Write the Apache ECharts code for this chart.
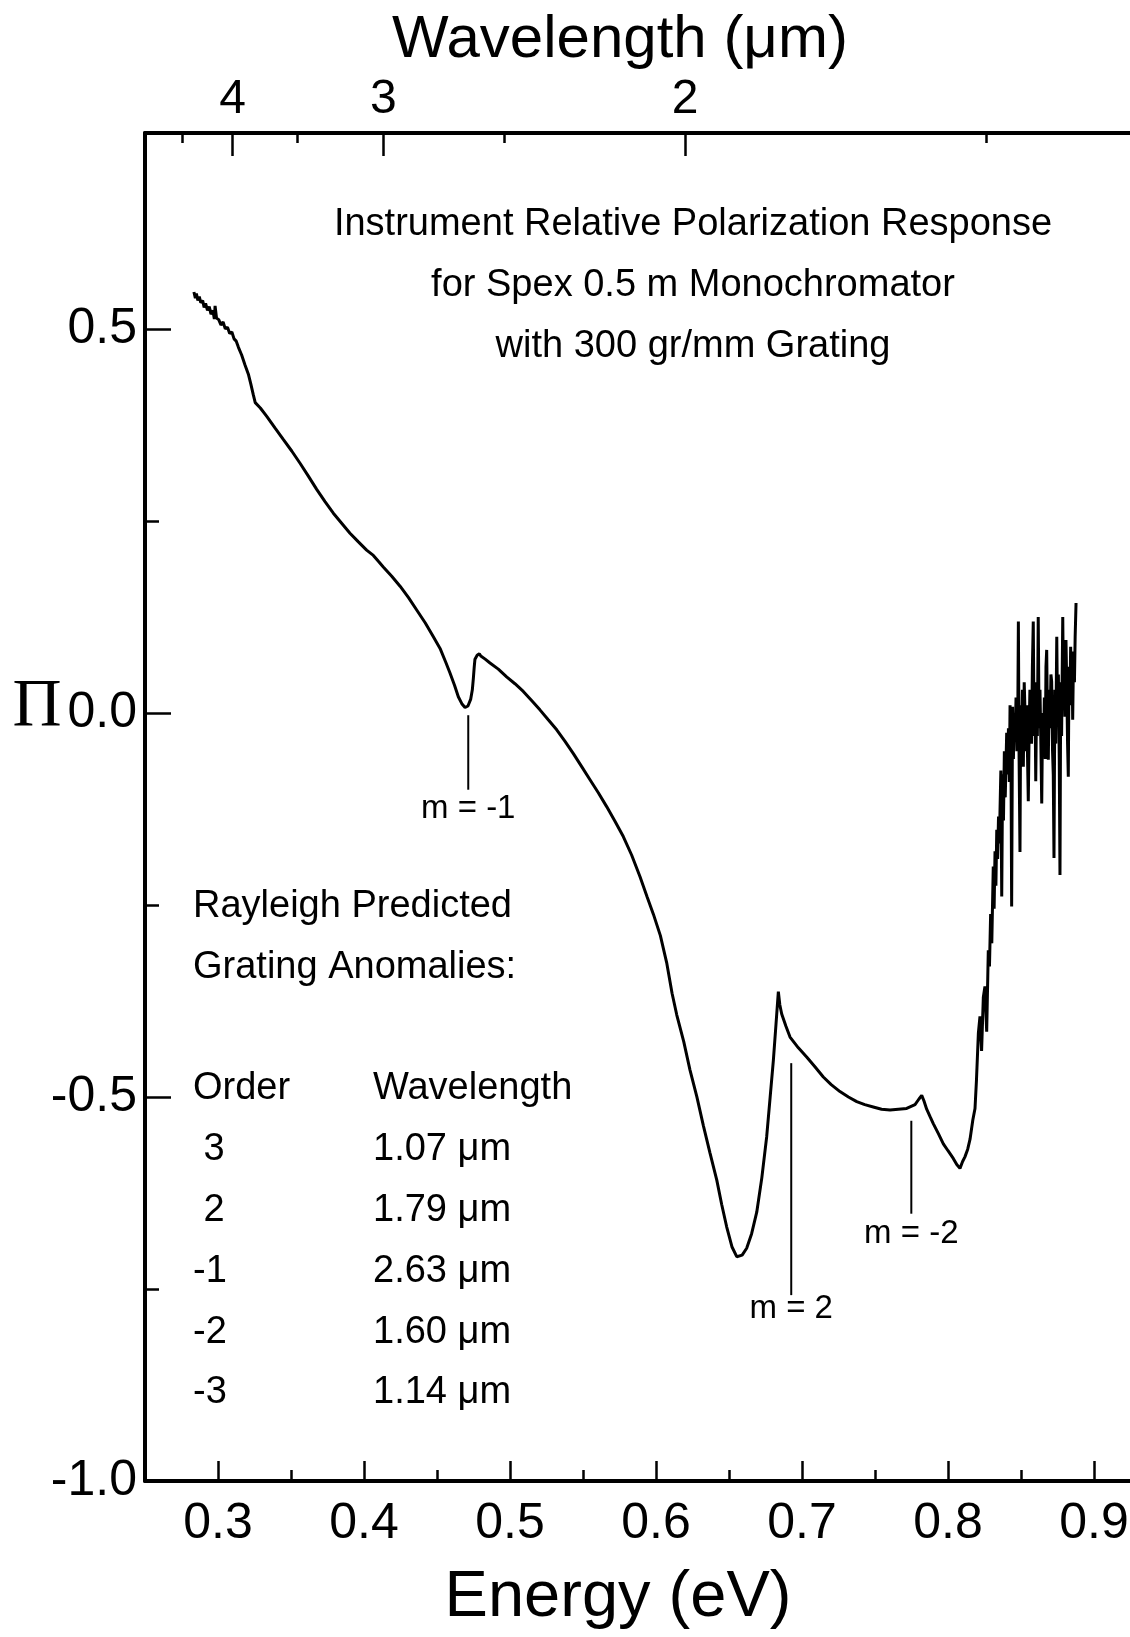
<!DOCTYPE html>
<html>
<head>
<meta charset="utf-8">
<script src="https://cdn.jsdelivr.net/npm/echarts@6/dist/echarts.min.js"></script>
<style>
  html, body { margin: 0; padding: 0; background: #fff; }
  #main { width: 1130px; height: 1637px; }
</style>
</head>
<body>
<div id="main"></div>
<script>
// hc / e in eV*um, used to place the wavelength axis
const LAMBDA_EV = 1.2398;

// axis ticks
const energyMajor = [0.3, 0.4, 0.5, 0.6, 0.7, 0.8, 0.9];
const energyMinor = [0.35, 0.45, 0.55, 0.65, 0.75, 0.85];
const piMajor = [-1.0, -0.5, 0.0, 0.5];
const piMinor = [-0.75, -0.25, 0.25];
const lambdaMajor = [4, 3, 2];
const lambdaMinor = [4.5, 3.5, 2.5, 1.5];

// measured polarization response, Pi vs energy (eV)
const curveEnergy = [
  0.2835, 0.2845, 0.2852, 0.2862, 0.2872, 0.2882, 0.2895, 0.2905, 0.2915, 0.2928,
  0.2940, 0.2952, 0.2965, 0.2975, 0.2980, 0.2990, 0.3005, 0.3020, 0.3035, 0.3050,
  0.3065, 0.3080, 0.3095, 0.3110, 0.3125, 0.3140, 0.3162, 0.3185, 0.3208, 0.3225,
  0.3242, 0.3255, 0.3265, 0.3290, 0.3334, 0.3390, 0.3447, 0.3505, 0.3562, 0.3620,
  0.3676, 0.3733, 0.3790, 0.3847, 0.3904, 0.3960, 0.4018, 0.4064, 0.4100, 0.4132,
  0.4190, 0.4247, 0.4305, 0.4361, 0.4420, 0.4475, 0.4521, 0.4560, 0.4589, 0.4620,
  0.4646, 0.4670, 0.4692, 0.4712, 0.4731, 0.4742, 0.4749, 0.4755, 0.4760, 0.4775,
  0.4790, 0.4800, 0.4830, 0.4863, 0.4920, 0.4977, 0.5034, 0.5091, 0.5148, 0.5205,
  0.5262, 0.5320, 0.5377, 0.5434, 0.5491, 0.5548, 0.5605, 0.5662, 0.5719, 0.5776,
  0.5833, 0.5890, 0.5940, 0.5982, 0.6030, 0.6073, 0.6110, 0.6142, 0.6190, 0.6233,
  0.6280, 0.6324, 0.6370, 0.6416, 0.6450, 0.6484, 0.6520, 0.6553, 0.6590, 0.6621,
  0.6655, 0.6690, 0.6725, 0.6758, 0.6782, 0.6804, 0.6822, 0.6838, 0.6848, 0.6861,
  0.6890, 0.6918, 0.6975, 0.7032, 0.7090, 0.7146, 0.7200, 0.7260, 0.7318, 0.7375,
  0.7430, 0.7488, 0.7545, 0.7603, 0.7660, 0.7717, 0.7774, 0.7800, 0.7820, 0.7835,
  0.7854, 0.7878, 0.7900, 0.7935, 0.7968, 0.8000, 0.8036, 0.8060, 0.8082, 0.8100,
  0.8116, 0.8135, 0.8151, 0.8170, 0.8185, 0.8195,
  // noisy tail
  0.8208, 0.8219, 0.8230, 0.8242, 0.8253, 0.8265, 0.8276, 0.8284, 0.8292, 0.8300,
  0.8310, 0.8316, 0.8322, 0.8328, 0.8334, 0.8340, 0.8346, 0.8352, 0.8356, 0.8362,
  0.8368, 0.8374, 0.8380, 0.8386, 0.8392, 0.8402, 0.8408, 0.8414, 0.8420, 0.8425,
  0.8431, 0.8436, 0.8442, 0.8448, 0.8454, 0.8460, 0.8466, 0.8472, 0.8478, 0.8482,
  0.8487, 0.8493, 0.8498, 0.8504, 0.8510, 0.8516, 0.8522, 0.8527, 0.8533, 0.8539,
  0.8545, 0.8550, 0.8556, 0.8561, 0.8566, 0.8572, 0.8578, 0.8584, 0.8590, 0.8595,
  0.8601, 0.8607, 0.8612, 0.8618, 0.8624, 0.8630, 0.8636, 0.8642, 0.8648, 0.8654,
  0.8660, 0.8666, 0.8671, 0.8676, 0.8682, 0.8687, 0.8693, 0.8699, 0.8705, 0.8710,
  0.8716, 0.8721, 0.8726, 0.8732, 0.8738, 0.8745, 0.8750, 0.8756, 0.8762, 0.8767,
  0.8772, 0.8778, 0.8786, 0.8791, 0.8796, 0.8801, 0.8808, 0.8814, 0.8819, 0.8824,
  0.8829, 0.8835, 0.8840, 0.8846, 0.8850, 0.8854, 0.8860, 0.8866, 0.8871, 0.8877
];
const curvePi = [
  0.548, 0.540, 0.546, 0.537, 0.542, 0.534, 0.537, 0.528, 0.533, 0.524,
  0.529, 0.519, 0.524, 0.513, 0.530, 0.514, 0.512, 0.505, 0.509, 0.500,
  0.502, 0.494, 0.496, 0.487, 0.484, 0.476, 0.466, 0.453, 0.441, 0.428,
  0.414, 0.404, 0.403, 0.397, 0.386, 0.371, 0.356, 0.341, 0.325, 0.308,
  0.291, 0.275, 0.260, 0.247, 0.234, 0.223, 0.212, 0.205, 0.197, 0.190,
  0.178, 0.165, 0.150, 0.134, 0.117, 0.099, 0.084, 0.066, 0.052, 0.036,
  0.021, 0.012, 0.007, 0.009, 0.018, 0.030, 0.045, 0.060, 0.070, 0.075,
  0.077, 0.074, 0.070, 0.065, 0.057, 0.047, 0.038, 0.028, 0.016, 0.004,
  -0.009, -0.022, -0.037, -0.053, -0.070, -0.087, -0.104, -0.122, -0.141, -0.161,
  -0.185, -0.213, -0.240, -0.262, -0.290, -0.325, -0.365, -0.393, -0.428, -0.465,
  -0.500, -0.537, -0.573, -0.608, -0.640, -0.669, -0.695, -0.708, -0.706, -0.697,
  -0.678, -0.650, -0.605, -0.552, -0.500, -0.452, -0.405, -0.363, -0.380, -0.392,
  -0.408, -0.422, -0.436, -0.448, -0.461, -0.474, -0.484, -0.493, -0.500, -0.506,
  -0.510, -0.513, -0.516, -0.517, -0.516, -0.515, -0.510, -0.503, -0.498, -0.505,
  -0.516, -0.526, -0.535, -0.548, -0.561, -0.570, -0.580, -0.588, -0.593, -0.584,
  -0.578, -0.568, -0.555, -0.530, -0.515, -0.478,
  -0.417, -0.395, -0.440, -0.370, -0.356, -0.415, -0.309, -0.330, -0.262, -0.300,
  -0.200, -0.255, -0.180, -0.225, -0.152, -0.190, -0.135, -0.170, -0.130, -0.075,
  -0.239, -0.080, -0.140, -0.050, -0.110, -0.026, -0.080, -0.020, -0.090, 0.010,
  -0.040, -0.252, 0.008, -0.060, 0.000, -0.030, 0.020, -0.050, -0.005, 0.119,
  -0.060, -0.181, 0.010, -0.040, 0.030, -0.070, 0.040, 0.005, -0.050, 0.010,
  -0.060, -0.115, -0.020, 0.030, 0.004, -0.040, 0.060, 0.119, -0.030, 0.040,
  -0.089, 0.020, -0.030, 0.125, -0.020, 0.030, -0.040, -0.118, 0.000, -0.050,
  0.020, -0.060, 0.060, 0.082, -0.030, -0.061, 0.030, -0.020, 0.050, 0.041,
  -0.050, -0.080, -0.189, 0.030, -0.040, 0.099, 0.000, 0.050, -0.060, -0.211,
  0.040, -0.030, 0.125, 0.020, 0.070, -0.005, 0.095, 0.030, -0.040, -0.083,
  0.060, 0.010, 0.086, 0.030, 0.060, -0.009, 0.080, 0.040, 0.100, 0.143
];

// Rayleigh anomaly markers drawn under the curve
const markerLabels = ['m = -1', 'm = 2', 'm = -2'];
const markerLambda = [2.63, 1.79, 1.60];
const markerTop = [-0.003, -0.456, -0.531];
const markerBottom = [-0.100, -0.758, -0.652];

// text blocks
const noteLines = [
  'Instrument Relative Polarization Response',
  'for Spex 0.5 m Monochromator',
  'with 300 gr/mm Grating'
];
const tableTitle = ['Rayleigh Predicted', 'Grating Anomalies:'];
const tableOrders = [' 3', ' 2', '-1', '-2', '-3'];
const tableLambda = [1.07, 1.79, 2.63, 1.60, 1.14];

const FONT = '"Liberation Sans", Arial, sans-serif';

window.onload = function () {
  const chartDom = document.getElementById('main');
  const myChart = echarts.init(chartDom);

  const toE = function (l) { return LAMBDA_EV / l; };
  const axisLineStyle = { color: '#000', width: 4 };
  const tickStyle = { color: '#000', width: 2.5 };
  const tickFont = { fontFamily: FONT, fontSize: 50, color: '#000' };
  const labelGap = [3, -3, 4];

  const curve = curveEnergy.map(function (e, i) { return [e, curvePi[i]]; });

  const markerSeries = markerLabels.map(function (name, i) {
    const e = toE(markerLambda[i]);
    return {
      type: 'line',
      data: [
        [e, markerTop[i]],
        {
          value: [e, markerBottom[i]],
          label: {
            show: true, position: 'bottom', distance: labelGap[i], formatter: name,
            fontFamily: FONT, fontSize: 33, color: '#000'
          }
        }
      ],
      showSymbol: true,
      symbol: 'circle',
      symbolSize: 0.1,
      itemStyle: { color: '#000' },
      lineStyle: { color: '#000', width: 2 },
      silent: true
    };
  });

  const graphics = [];
  function addText(text, x, y, size, align, family) {
    graphics.push({
      type: 'text',
      style: {
        text: text, x: x, y: y,
        font: size + 'px ' + (family || FONT),
        fill: '#000', textAlign: align || 'left', textVerticalAlign: 'middle'
      }
    });
  }
  addText('Wavelength (\u03bcm)', 620, 40, 60, 'center');
  addText('Energy (eV)', 618, 1598, 65, 'center');
  addText('\u03a0', 37, 707, 68, 'center', '"Liberation Serif", serif');

  noteLines.forEach(function (t, i) { addText(t, 693, 225 + i * 60.6, 38, 'center'); });
  tableTitle.forEach(function (t, i) { addText(t, 193, 907 + i * 60.6, 38); });
  addText('Order', 193, 1089, 38);
  addText('Wavelength', 373, 1089, 38);
  tableOrders.forEach(function (o, i) {
    addText(o, 193, 1150 + i * 60.7, 38);
    addText(tableLambda[i].toFixed(2) + ' \u03bcm', 373, 1150 + i * 60.7, 38);
  });

  const option = {
    animation: false,
    backgroundColor: '#fff',
    grid: { left: 145, top: 133, width: 1022, height: 1348, containLabel: false, outerBoundsMode: 'none' },
    xAxis: [
      {
        type: 'value', position: 'bottom', min: 0.25, max: 0.95,
        axisLine: { onZero: false, lineStyle: axisLineStyle },
        axisTick: { inside: true, length: 20, customValues: energyMajor, lineStyle: tickStyle },
        axisLabel: Object.assign({ customValues: energyMajor, margin: 18,
          formatter: function (v) { return v.toFixed(1); } }, tickFont),
        splitLine: { show: false }
      },
      {
        type: 'value', position: 'bottom', min: 0.25, max: 0.95,
        axisLine: { show: false, onZero: false },
        axisTick: { inside: true, length: 11, customValues: energyMinor, lineStyle: tickStyle },
        axisLabel: { show: false },
        splitLine: { show: false }
      },
      {
        type: 'value', position: 'top', min: 0.25, max: 0.95,
        axisLine: { onZero: false, lineStyle: axisLineStyle },
        axisTick: { inside: true, length: 23, customValues: lambdaMajor.map(toE), lineStyle: tickStyle },
        axisLabel: { customValues: lambdaMajor.map(toE), margin: 9,
          fontFamily: FONT, fontSize: 48, color: '#000',
          formatter: function (v) { return String(Math.round(LAMBDA_EV / v)); } },
        splitLine: { show: false }
      },
      {
        type: 'value', position: 'top', min: 0.25, max: 0.95,
        axisLine: { show: false, onZero: false },
        axisTick: { inside: true, length: 10, customValues: lambdaMinor.map(toE), lineStyle: tickStyle },
        axisLabel: { show: false },
        splitLine: { show: false }
      }
    ],
    yAxis: [
      {
        type: 'value', position: 'left', min: -1, max: 0.755,
        axisLine: { show: true, onZero: false, lineStyle: axisLineStyle },
        axisTick: { show: true, inside: true, length: 26, customValues: piMajor, lineStyle: tickStyle },
        axisLabel: Object.assign({ customValues: piMajor, margin: 8,
          formatter: function (v) { return v.toFixed(1); } }, tickFont),
        splitLine: { show: false }
      },
      {
        type: 'value', position: 'left', min: -1, max: 0.755,
        axisLine: { show: false, onZero: false },
        axisTick: { show: true, inside: true, length: 14, customValues: piMinor, lineStyle: tickStyle },
        axisLabel: { show: false },
        splitLine: { show: false }
      }
    ],
    series: [
      {
        type: 'line',
        data: curve,
        showSymbol: false,
        symbol: 'none',
        lineStyle: { color: '#000', width: 3 },
        silent: true
      }
    ].concat(markerSeries),
    graphic: graphics
  };

  option && myChart.setOption(option);
};
</script>
</body>
</html>
